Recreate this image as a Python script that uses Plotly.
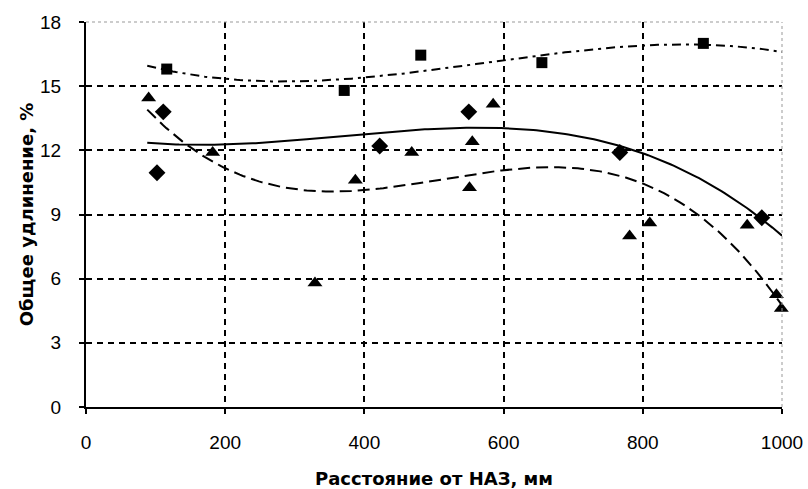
import numpy as np
import plotly.graph_objects as go

# Data
sq_x = [116, 371, 481, 655, 887]
sq_y = [15.8, 14.8, 16.45, 16.1, 17.0]
di_x = [102, 111, 422, 550, 767, 971]
di_y = [10.95, 13.8, 12.2, 13.8, 11.9, 8.85]
tr_x = [90, 182, 329, 387, 468, 551, 555, 585, 781, 810, 950, 992, 999]
tr_y = [14.45, 11.9, 5.8, 10.6, 11.9, 10.25, 12.4, 14.15, 8.0, 8.6, 8.5, 5.25, 4.6]

x_ticks = [0, 200, 400, 600, 800, 1000]
y_ticks = [0, 3, 6, 9, 12, 15, 18]

trend_x = np.linspace(88, 1000, 200)

def trend(x, y, deg):
    c = np.polyfit(x, y, deg)
    return np.polyval(c, trend_x)

fig = go.Figure()
fig.add_trace(go.Scatter(x=trend_x, y=trend(sq_x, sq_y, 3), mode="lines",
                         line=dict(color="black", width=2, dash="9px,5px,3px,5px"), hoverinfo="skip"))
fig.add_trace(go.Scatter(x=trend_x, y=trend(di_x, di_y, 3), mode="lines",
                         line=dict(color="black", width=2), hoverinfo="skip"))
fig.add_trace(go.Scatter(x=trend_x, y=trend(tr_x, tr_y, 3), mode="lines",
                         line=dict(color="black", width=2, dash="12px,6px"), hoverinfo="skip"))
fig.add_trace(go.Scatter(x=sq_x, y=sq_y, mode="markers", cliponaxis=False,
                         marker=dict(symbol="square", size=11, color="black")))
fig.add_trace(go.Scatter(x=di_x, y=di_y, mode="markers", cliponaxis=False,
                         marker=dict(symbol="diamond", size=13, color="black")))
fig.add_trace(go.Scatter(x=tr_x, y=tr_y, mode="markers", cliponaxis=False,
                         marker=dict(symbol="triangle-up", size=13, color="black")))

axis_font = dict(family="Liberation Sans, Arial", size=19, color="black")
title_font = dict(family="DejaVu Sans", size=18, color="black")
fig.update_layout(
    width=808, height=489,
    margin=dict(l=86, r=26, t=22, b=82),
    paper_bgcolor="white", plot_bgcolor="white",
    showlegend=False,
    xaxis=dict(range=[0, 1000], tickvals=x_ticks, ticktext=[str(v) for v in x_ticks],
               showgrid=True, gridcolor="black", griddash="6px,5px", gridwidth=1.5,
               showline=True, linecolor="black", linewidth=2, automargin=False,
               ticks="outside", ticklen=5, tickcolor="black", tickwidth=1.5,
               tickfont=axis_font, zeroline=False, ticklabelstandoff=12,
               title=dict(text="<b>Расстояние от НАЗ, мм</b>", font=title_font, standoff=22)),
    yaxis=dict(range=[0, 18], tickvals=y_ticks, ticktext=[str(v) for v in y_ticks],
               showgrid=True, gridcolor="black", griddash="6px,5px", gridwidth=1.5,
               showline=True, linecolor="black", linewidth=2, automargin=False,
               ticks="outside", ticklen=5, tickcolor="black", tickwidth=1.5,
               tickfont=axis_font, zeroline=False, ticklabelstandoff=14,
               title=dict(text="<b>Общее удлинение, %</b>", font=title_font, standoff=2)),
    shapes=[
        dict(type="line", xref="paper", yref="paper", x0=0, x1=1, y0=1, y1=1,
             line=dict(color="#999999", width=1, dash="dot")),
        dict(type="line", xref="paper", yref="paper", x0=1, x1=1, y0=0, y1=1,
             line=dict(color="#999999", width=1, dash="dot")),
    ],
)
fig.write_html("out.html")
